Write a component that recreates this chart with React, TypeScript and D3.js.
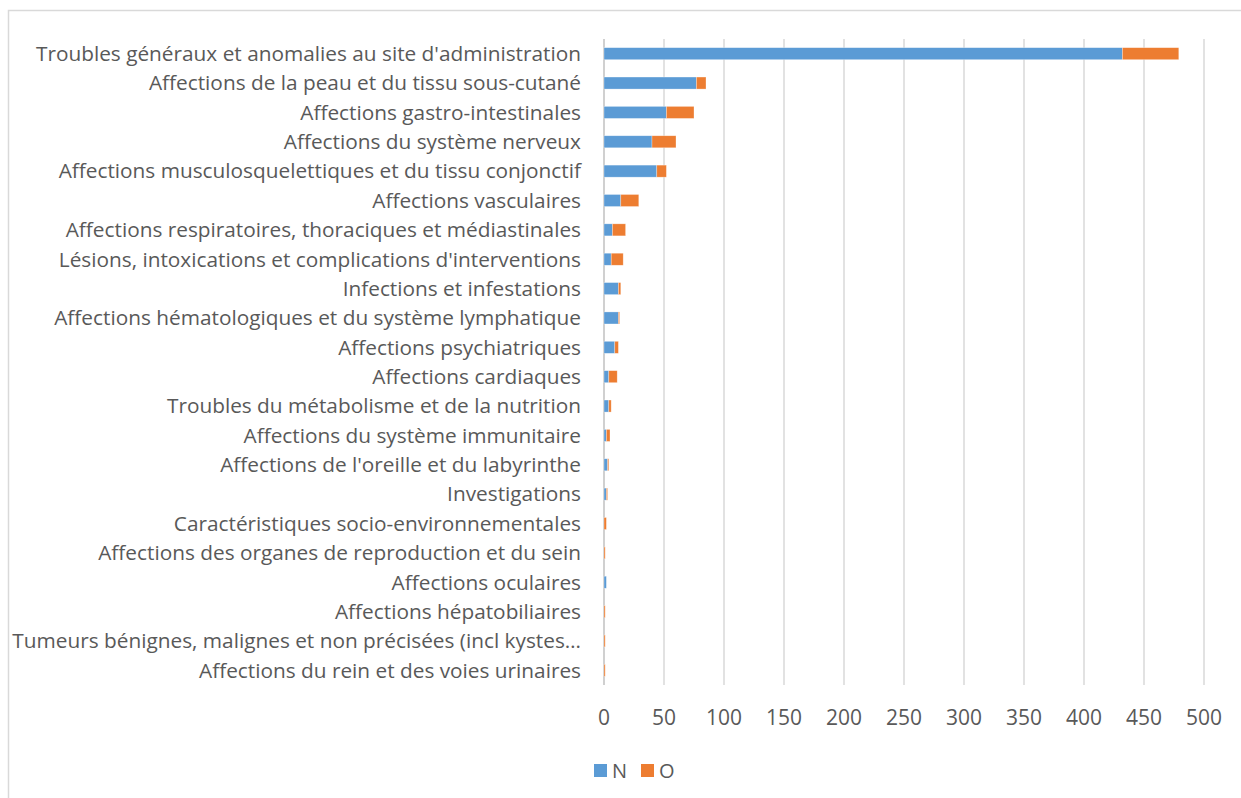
import React, { useEffect, useRef } from 'react'
import * as d3 from 'd3'

// categories, top to bottom
const categories = [
  "Troubles généraux et anomalies au site d'administration",
  'Affections de la peau et du tissu sous-cutané',
  'Affections gastro-intestinales',
  'Affections du système nerveux',
  'Affections musculosquelettiques et du tissu conjonctif',
  'Affections vasculaires',
  'Affections respiratoires, thoraciques et médiastinales',
  "Lésions, intoxications et complications d'interventions",
  'Infections et infestations',
  'Affections hématologiques et du système lymphatique',
  'Affections psychiatriques',
  'Affections cardiaques',
  'Troubles du métabolisme et de la nutrition',
  'Affections du système immunitaire',
  "Affections de l'oreille et du labyrinthe",
  'Investigations',
  'Caractéristiques socio-environnementales',
  'Affections des organes de reproduction et du sein',
  'Affections oculaires',
  'Affections hépatobiliaires',
  'Tumeurs bénignes, malignes et non précisées (incl kystes…',
  'Affections du rein et des voies urinaires',
]

const valuesN = [432, 77, 52, 40, 44, 14, 7, 6, 12, 12, 9, 4, 4, 2, 3, 2, 0, 0, 2, 0, 0, 0]
const valuesO = [47, 8, 23, 20, 8, 15, 11, 10, 2, 1, 3, 7, 2, 3, 1, 1, 2, 1, 0, 1, 1, 1]

const seriesNames = ['N', 'O']
const xTicks = [0, 50, 100, 150, 200, 250, 300, 350, 400, 450, 500]

const colors = ['#5B9BD5', '#ED7D31']

export default function App() {
  const ref = useRef<SVGSVGElement>(null)

  useEffect(() => {
    const width = 1241
    const height = 798
    const svg = d3.select(ref.current)
    svg.selectAll('*').remove()
    svg.attr('width', width).attr('height', height)

    const font = "'Open Sans', sans-serif"
    const textColor = '#595959'

    // outer frame
    svg.append('rect')
      .attr('x', 8.5).attr('y', 10.5)
      .attr('width', 1260).attr('height', 800)
      .attr('fill', '#fff')
      .attr('stroke', '#d9d9d9')
      .attr('stroke-width', 1.5)

    const x = d3.scaleLinear().domain([0, 500]).range([604, 1204])
    const y = d3.scaleBand<string>()
      .domain(categories)
      .range([39, 685])
      .paddingInner(0.59)
      .paddingOuter(0.295)

    // gridlines
    svg.append('g')
      .selectAll('line')
      .data(xTicks)
      .enter()
      .append('line')
      .attr('x1', d => x(d)).attr('x2', d => x(d))
      .attr('y1', 39).attr('y2', 685)
      .attr('stroke', d => d === 0 ? '#d0d0d0' : '#d9d9d9')
      .attr('stroke-width', d => d === 0 ? 2 : 1.5)

    // tick labels
    svg.append('g')
      .selectAll('text')
      .data(xTicks)
      .enter()
      .append('text')
      .attr('x', d => x(d))
      .attr('y', 725)
      .attr('text-anchor', 'middle')
      .attr('font-family', font)
      .attr('font-size', 21)
      .attr('fill', textColor)
      .text(d => d)

    // category labels
    svg.append('g')
      .selectAll('text')
      .data(categories)
      .enter()
      .append('text')
      .attr('x', 581)
      .attr('y', d => (y(d) as number) + y.bandwidth() / 2)
      .attr('dy', '0.35em')
      .attr('text-anchor', 'end')
      .attr('font-family', font)
      .attr('font-size', 20.8)
      .attr('fill', textColor)
      .text(d => d)

    // stacked bars
    const rows = categories.map((c, i) => ({ cat: c, N: valuesN[i], O: valuesO[i] }))
    const stack = d3.stack<any>().keys(seriesNames)(rows)

    svg.append('g')
      .selectAll('g')
      .data(stack)
      .enter()
      .append('g')
      .attr('fill', (_d, i) => colors[i])
      .selectAll('rect')
      .data(d => d)
      .enter()
      .append('rect')
      .attr('x', d => x(d[0]))
      .attr('y', d => y(d.data.cat) as number)
      .attr('width', d => x(d[1]) - x(d[0]))
      .attr('height', y.bandwidth())
      .attr('stroke', '#fff')
      .attr('stroke-opacity', 0.5)
      .attr('stroke-width', 0.6)

    // legend
    const legend = svg.append('g')
    const legendX = [594, 641]
    seriesNames.forEach((name, i) => {
      legend.append('rect')
        .attr('x', legendX[i]).attr('y', 764)
        .attr('width', 13).attr('height', 13)
        .attr('fill', colors[i])
      legend.append('text')
        .attr('x', legendX[i] + 18)
        .attr('y', 777.5)
        .attr('font-family', font)
        .attr('font-size', 20)
        .attr('fill', textColor)
        .text(name)
    })
  }, [])

  return <svg ref={ref} style={{ position: 'fixed', left: 0, top: 0, display: 'block' }} />
}
